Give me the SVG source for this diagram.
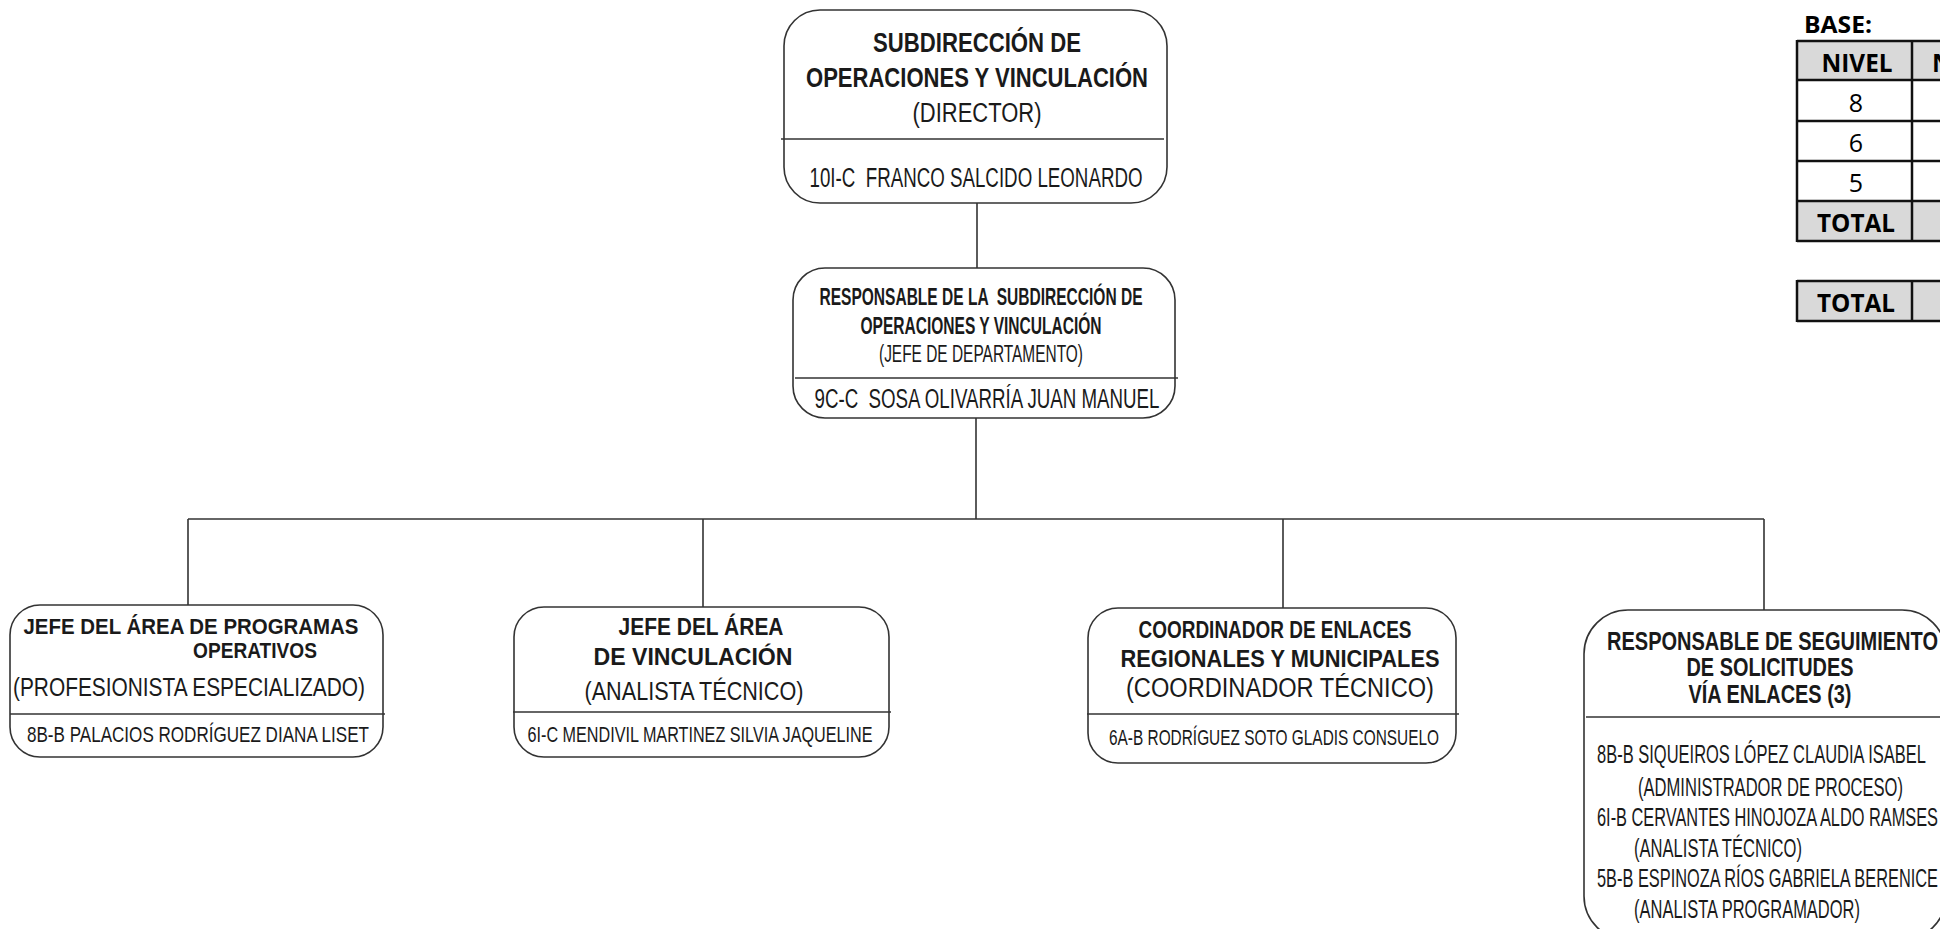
<svg xmlns="http://www.w3.org/2000/svg" width="1940" height="929" viewBox="0 0 1940 929">
<style>
.box{fill:#fff;stroke:#333;stroke-width:1.6}
.sep{stroke:#333;stroke-width:1.6}
.con{stroke:#333;stroke-width:1.6;fill:none}
.t{font-family:"Liberation Sans",Arial,sans-serif;fill:#1a1a1a;white-space:pre}
.b{font-weight:bold}
.m{text-anchor:middle}
.tb{font-family:"Open Sans","Liberation Sans",sans-serif;fill:#000}
.grid{stroke:#111;stroke-width:2.5;fill:none}
.gray{fill:#d9d9d9}
</style>
<rect width="1940" height="929" fill="#fff"/>
<g id="connectors">
<line class="con" x1="977" y1="203" x2="977" y2="268"/>
<line class="con" x1="976" y1="418" x2="976" y2="519"/>
<line class="con" x1="188" y1="519" x2="1764" y2="519"/>
<line class="con" x1="188" y1="519" x2="188" y2="605"/>
<line class="con" x1="703" y1="519" x2="703" y2="607"/>
<line class="con" x1="1283" y1="519" x2="1283" y2="608"/>
<line class="con" x1="1764" y1="519" x2="1764" y2="610"/>
</g>
<g id="n-director">
<rect class="box" x="784" y="10" width="383" height="193" rx="36" ry="36"/>
<line class="sep" x1="781" y1="139" x2="1164" y2="139"/>
<text class="t b m" x="977" y="52" font-size="27" textLength="208" lengthAdjust="spacingAndGlyphs">SUBDIRECCIÓN DE</text>
<text class="t b m" x="977" y="87" font-size="27" textLength="342" lengthAdjust="spacingAndGlyphs">OPERACIONES Y VINCULACIÓN</text>
<text class="t m" x="977" y="122" font-size="27" textLength="129" lengthAdjust="spacingAndGlyphs">(DIRECTOR)</text>
<text class="t m" x="976" y="187" font-size="27" textLength="333" lengthAdjust="spacingAndGlyphs">10I-C  FRANCO SALCIDO LEONARDO</text>
</g>
<g id="n-jefe">
<rect class="box" x="793" y="268" width="382" height="150" rx="32" ry="32"/>
<line class="sep" x1="795" y1="378" x2="1178" y2="378"/>
<text class="t b m" x="981" y="305" font-size="23.5" textLength="323" lengthAdjust="spacingAndGlyphs">RESPONSABLE DE LA  SUBDIRECCIÓN DE</text>
<text class="t b m" x="981" y="334" font-size="23.5" textLength="241" lengthAdjust="spacingAndGlyphs">OPERACIONES Y VINCULACIÓN</text>
<text class="t m" x="981" y="362" font-size="23.5" textLength="204" lengthAdjust="spacingAndGlyphs">(JEFE DE DEPARTAMENTO)</text>
<text class="t m" x="987" y="408" font-size="27" textLength="345" lengthAdjust="spacingAndGlyphs">9C-C  SOSA OLIVARRÍA JUAN MANUEL</text>
</g>
<g id="n-programas">
<rect class="box" x="10" y="605" width="373" height="152" rx="30" ry="30"/>
<line class="sep" x1="10" y1="714" x2="385" y2="714"/>
<text class="t b m" x="191" y="634" font-size="22" textLength="335" lengthAdjust="spacingAndGlyphs">JEFE DEL ÁREA DE PROGRAMAS</text>
<text class="t b m" x="255" y="658" font-size="22" textLength="124" lengthAdjust="spacingAndGlyphs">OPERATIVOS</text>
<text class="t m" x="189" y="696" font-size="26" textLength="352" lengthAdjust="spacingAndGlyphs">(PROFESIONISTA ESPECIALIZADO)</text>
<text class="t m" x="198" y="742" font-size="22" textLength="342" lengthAdjust="spacingAndGlyphs">8B-B PALACIOS RODRÍGUEZ DIANA LISET</text>
</g>
<g id="n-vinculacion">
<rect class="box" x="514" y="607" width="375" height="150" rx="30" ry="30"/>
<line class="sep" x1="513" y1="712" x2="891" y2="712"/>
<text class="t b m" x="701" y="635" font-size="23.5" textLength="165" lengthAdjust="spacingAndGlyphs">JEFE DEL ÁREA</text>
<text class="t b m" x="693" y="665" font-size="23.5" textLength="199" lengthAdjust="spacingAndGlyphs">DE VINCULACIÓN</text>
<text class="t m" x="694" y="700" font-size="26" textLength="219" lengthAdjust="spacingAndGlyphs">(ANALISTA TÉCNICO)</text>
<text class="t m" x="700" y="742" font-size="22" textLength="345" lengthAdjust="spacingAndGlyphs">6I-C MENDIVIL MARTINEZ SILVIA JAQUELINE</text>
</g>
<g id="n-coordinador">
<rect class="box" x="1088" y="608" width="368" height="155" rx="30" ry="30"/>
<line class="sep" x1="1087" y1="714" x2="1459" y2="714"/>
<text class="t b m" x="1275" y="638" font-size="24" textLength="273" lengthAdjust="spacingAndGlyphs">COORDINADOR DE ENLACES</text>
<text class="t b m" x="1280" y="667" font-size="24" textLength="319" lengthAdjust="spacingAndGlyphs">REGIONALES Y MUNICIPALES</text>
<text class="t m" x="1280" y="697" font-size="27" textLength="308" lengthAdjust="spacingAndGlyphs">(COORDINADOR TÉCNICO)</text>
<text class="t m" x="1274" y="745" font-size="22" textLength="330" lengthAdjust="spacingAndGlyphs">6A-B RODRÍGUEZ SOTO GLADIS CONSUELO</text>
</g>
<g id="n-seguimiento">
<rect class="box" x="1584" y="610" width="362" height="330" rx="44" ry="44"/>
<line class="sep" x1="1586" y1="717" x2="1940" y2="717"/>
<text class="t b" x="1607" y="650" font-size="25" textLength="331" lengthAdjust="spacingAndGlyphs">RESPONSABLE DE SEGUIMIENTO</text>
<text class="t b m" x="1770" y="676" font-size="25" textLength="167" lengthAdjust="spacingAndGlyphs">DE SOLICITUDES</text>
<text class="t b m" x="1770" y="703" font-size="25" textLength="163" lengthAdjust="spacingAndGlyphs">VÍA ENLACES (3)</text>
<text class="t" x="1597" y="763" font-size="25" textLength="329" lengthAdjust="spacingAndGlyphs">8B-B SIQUEIROS LÓPEZ CLAUDIA ISABEL</text>
<text class="t" x="1638" y="796" font-size="25" textLength="265" lengthAdjust="spacingAndGlyphs">(ADMINISTRADOR DE PROCESO)</text>
<text class="t" x="1597" y="826" font-size="25" textLength="341" lengthAdjust="spacingAndGlyphs">6I-B CERVANTES HINOJOZA ALDO RAMSES</text>
<text class="t" x="1634" y="857" font-size="25" textLength="168" lengthAdjust="spacingAndGlyphs">(ANALISTA TÉCNICO)</text>
<text class="t" x="1597" y="887" font-size="25" textLength="341" lengthAdjust="spacingAndGlyphs">5B-B ESPINOZA RÍOS GABRIELA BERENICE</text>
<text class="t" x="1634" y="918" font-size="25" textLength="226" lengthAdjust="spacingAndGlyphs">(ANALISTA PROGRAMADOR)</text>
</g>
<g id="tabla-base">
<text class="tb" x="1804" y="33" font-size="24" font-weight="bold" textLength="68" lengthAdjust="spacingAndGlyphs">BASE:</text>
<rect class="gray" x="1797" y="41" width="150" height="39"/>
<rect class="gray" x="1797" y="201" width="150" height="40"/>
<line class="grid" x1="1797" y1="41" x2="1945" y2="41"/>
<line class="grid" x1="1797" y1="80" x2="1945" y2="80"/>
<line class="grid" x1="1797" y1="121" x2="1945" y2="121"/>
<line class="grid" x1="1797" y1="161" x2="1945" y2="161"/>
<line class="grid" x1="1797" y1="201" x2="1945" y2="201"/>
<line class="grid" x1="1797" y1="241" x2="1945" y2="241"/>
<line class="grid" x1="1797" y1="40" x2="1797" y2="242"/>
<line class="grid" x1="1912" y1="40" x2="1912" y2="242"/>
<text class="tb m" x="1857" y="72" font-size="25" font-weight="bold" textLength="71" lengthAdjust="spacingAndGlyphs">NIVEL</text>
<text class="tb" x="1932" y="72" font-size="25" font-weight="bold">N</text>
<text class="tb m" x="1856" y="112" font-size="25">8</text>
<text class="tb m" x="1856" y="152" font-size="25">6</text>
<text class="tb m" x="1856" y="192" font-size="25">5</text>
<text class="tb m" x="1856" y="232" font-size="25" font-weight="bold" textLength="78" lengthAdjust="spacingAndGlyphs">TOTAL</text>
</g>
<g id="tabla-total">
<rect class="gray" x="1797" y="281" width="150" height="40"/>
<line class="grid" x1="1797" y1="281" x2="1945" y2="281"/>
<line class="grid" x1="1797" y1="321" x2="1945" y2="321"/>
<line class="grid" x1="1797" y1="280" x2="1797" y2="322"/>
<line class="grid" x1="1912" y1="280" x2="1912" y2="322"/>
<text class="tb m" x="1856" y="312" font-size="25" font-weight="bold" textLength="78" lengthAdjust="spacingAndGlyphs">TOTAL</text>
</g>
</svg>
